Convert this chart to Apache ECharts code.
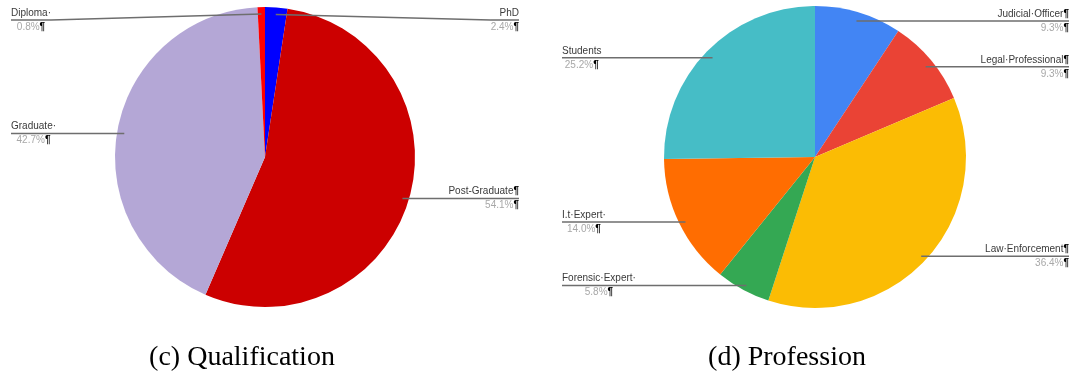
<!DOCTYPE html>
<html>
<head>
<meta charset="utf-8">
<script src="https://cdn.jsdelivr.net/npm/echarts@6/dist/echarts.min.js"></script>
<style>
  html, body { margin: 0; padding: 0; background: #ffffff; }
  #chart { width: 1071px; height: 378px; }
</style>
</head>
<body>
<div id="chart"></div>
<script>
// Qualification shares (%), clockwise from 12 o'clock
const qualNames  = ['PhD', 'Post-Graduate', 'Graduate·', 'Diploma·'];
const qualMarks  = ['', '¶', '', ''];
const qualValues = [2.4, 54.1, 42.7, 0.8];
const qualColors = ['#0000ff', '#cc0000', '#b4a7d6', '#ff0000'];

// Profession shares (%), clockwise from 12 o'clock
const profNames  = ['Judicial·Officer', 'Legal·Professional', 'Law·Enforcement', 'Forensic·Expert·', 'I.t·Expert·', 'Students'];
const profMarks  = ['¶', '¶', '¶', '', '', ''];
const profValues = [9.3, 9.3, 36.4, 5.8, 14.0, 25.2];
const profColors = ['#4285f4', '#ea4335', '#fbbc04', '#34a853', '#ff6d01', '#46bdc6'];

const captions = ['(c) Qualification', '(d) Profession'];

const LABEL_FONT = '"Liberation Sans", Arial, sans-serif';
const ANCHOR_INSET = 7;   // leader line starts a little inside the slice
const LABEL_DROP = 2;     // underline sits slightly below the slice anchor
const TOP_GAP = 8;        // keep top labels inside the canvas

// pie geometry: layout box, centre inside the box, radius, label edge distance
const pies = [
  { left: 0,   width: 530, cx: 265, cy: 157, r: 150, edge: 11 },
  { left: 550, width: 531, cx: 265, cy: 157, r: 151, edge: 12 }
];

const rich = {};
['l', 'r'].forEach(function (s) {
  const align = s === 'l' ? 'center' : 'right';
  rich['n' + s] = { fontFamily: LABEL_FONT, fontSize: 10, color: '#3a3a3a', lineHeight: 14, align: align };
  rich['p' + s] = { fontFamily: LABEL_FONT, fontSize: 10, color: '#a8a8a8', lineHeight: 14, align: align };
  rich['m' + s] = { fontFamily: LABEL_FONT, fontSize: 10, color: '#000000', fontWeight: 'bold', lineHeight: 14, align: align };
});

// Leader line: from just inside the slice, under the label name to its far edge
function leaderLayout(g) {
  return function (p) {
    const pts = p.labelLinePoints;
    if (!pts) return {};
    const cx = g.left + g.cx, cy = g.cy;
    const dx = pts[0][0] - cx;
    const dy = pts[0][1] - cy;
    const len = Math.hypot(dx, dy) || 1;
    const ax = cx + dx / len * (g.r - ANCHOR_INSET);
    const ay = cy + dy / len * (g.r - ANCHOR_INSET) + LABEL_DROP;
    const r = p.labelRect;
    const minY = r.height / 2 + TOP_GAP;
    const y = Math.max(ay, minY);
    const startY = ay < minY ? ay - LABEL_DROP : y;
    const onRight = r.x + r.width / 2 > ax;
    const near = onRight ? r.x : r.x + r.width;
    const far = onRight ? r.x + r.width : r.x;
    return { y: y, labelLinePoints: [[ax, startY], [near, y], [far, y]] };
  };
}

function buildData(names, marks, values, colors, withLabels) {
  const total = values.reduce(function (a, b) { return a + b; }, 0);
  let acc = 0;
  return names.map(function (name, i) {
    const mid = (acc + values[i] / 2) / total;
    acc += values[i];
    const s = mid < 0.5 ? 'r' : 'l';
    const pct = (values[i] / total * 100).toFixed(1) + '%';
    let text = '{n' + s + '|' + name + '}';
    if (marks[i]) text += '{m' + s + '|' + marks[i] + '}';
    text += '\n{p' + s + '|' + pct + '}{m' + s + '|¶}';
    const item = { name: name, value: values[i] };
    if (withLabels) {
      item.itemStyle = { color: 'rgba(0,0,0,0)' };
      item.label = { formatter: text };
    } else {
      item.itemStyle = { color: colors[i] };
    }
    return item;
  });
}

function baseSeries(g, z) {
  return {
    type: 'pie',
    z: z,
    left: g.left, top: 0, width: g.width, height: 330,
    center: [g.cx, g.cy],
    radius: g.r,
    startAngle: 90,
    clockwise: true,
    silent: true,
    itemStyle: { borderWidth: 0 }
  };
}

// slices
function slicesSeries(names, marks, values, colors, g) {
  const s = baseSeries(g, 2);
  s.label = { show: false };
  s.labelLine = { show: false };
  s.data = buildData(names, marks, values, colors, false);
  return s;
}

// labels and leader lines, drawn above the slices
function labelSeries(names, marks, values, colors, g) {
  const s = baseSeries(g, 3);
  s.avoidLabelOverlap = true;
  s.label = {
    show: true,
    position: 'outer',
    alignTo: 'edge',
    edgeDistance: g.edge,
    overflow: 'none',
    rich: rich
  };
  s.labelLine = {
    show: true,
    length: 5,
    length2: 5,
    lineStyle: { color: '#6e6e6e', width: 1.5 }
  };
  s.labelLayout = leaderLayout(g);
  s.data = buildData(names, marks, values, colors, true);
  return s;
}

const chart = echarts.init(document.getElementById('chart'), null, { renderer: 'canvas' });

const captionStyle = { fontFamily: '"Liberation Serif", "Times New Roman", serif', fontSize: 28, fontWeight: 'normal', color: '#000000' };

chart.setOption({
  backgroundColor: '#ffffff',
  animation: false,
  title: [
    { text: captions[0], left: 242, top: 344, textAlign: 'center', padding: 0, textStyle: captionStyle },
    { text: captions[1], left: 787, top: 344, textAlign: 'center', padding: 0, textStyle: captionStyle }
  ],
  series: [
    slicesSeries(qualNames, qualMarks, qualValues, qualColors, pies[0]),
    slicesSeries(profNames, profMarks, profValues, profColors, pies[1]),
    labelSeries(qualNames, qualMarks, qualValues, qualColors, pies[0]),
    labelSeries(profNames, profMarks, profValues, profColors, pies[1])
  ]
});
</script>
</body>
</html>
